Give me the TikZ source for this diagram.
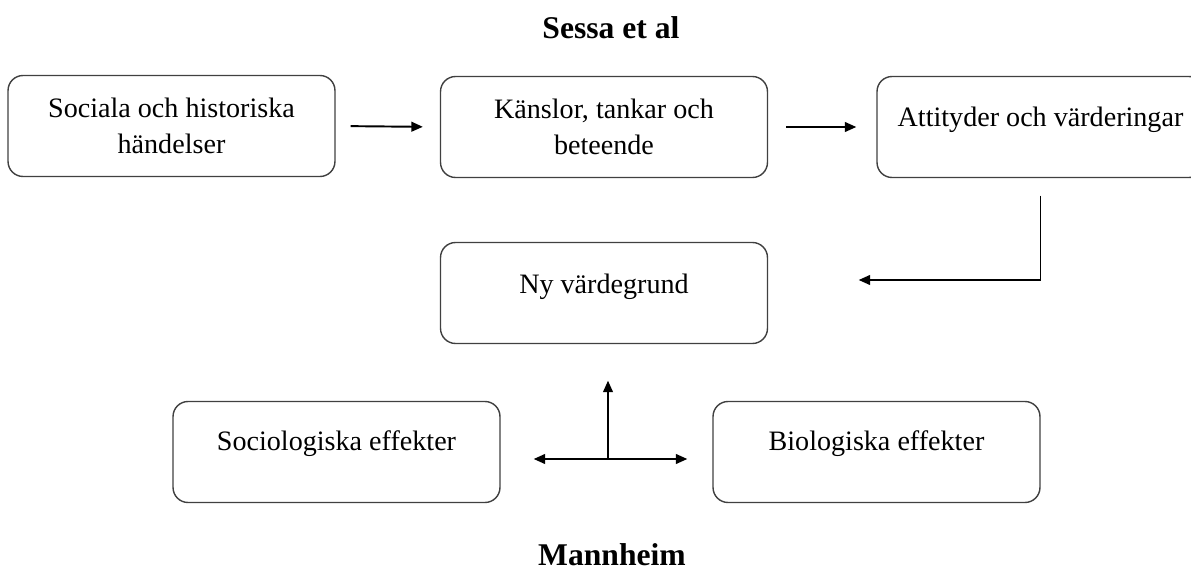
\documentclass[tikz,border=0pt]{standalone}
\usepackage{fontspec}
\setmainfont{Liberation Serif}
\usetikzlibrary{arrows.meta}

\begin{document}
\begin{tikzpicture}[x=0.02cm,y=-0.02cm,
    box/.style={draw=black!75, line width=0.8pt, rounded corners=0.3cm, minimum width=6.54cm, minimum height=2.02cm, align=center, font=\fontsize{16pt}{20.5pt}\selectfont},
    raised/.style={text depth=#1},
    tip/.style={line width=1.1pt},
    arr/.style={tip, -{Triangle[length=6.5pt,width=5.5pt]}},
    dbl/.style={tip, {Triangle[length=6.5pt,width=5.5pt]}-{Triangle[length=6.5pt,width=5.5pt]}},
    title/.style={inner sep=1pt, font=\fontsize{18pt}{22pt}\selectfont\bfseries}]

    % page size of the original
    \useasboundingbox (0,0) rectangle (1191,571);

    % headings
    \node[title] (sessa) at (611,28) {Sessa et al};
    \node[title] (mannheim) at (612,555) {Mannheim};

    % top row
    \node[box] (handelser) at (171.5,126) {Sociala och historiska\\händelser};
    \node[box] (kanslor) at (604,127) {Känslor, tankar och\\beteende};
    \node[box, raised=0.40cm] (attityder) at (1040.5,127) {Attityder och värderingar};

    % middle
    \node[box, raised=0.38cm] (grund) at (604,293) {Ny värdegrund};

    % bottom row
    \node[box, raised=0.46cm] (sociologi) at (336.5,452) {Sociologiska effekter};
    \node[box, raised=0.46cm] (biologi) at (876.5,452) {Biologiska effekter};
    \coordinate (hub) at (608,459);

    % arrows
    \draw[arr, shorten <=0.3cm, shorten >=0.34cm] (handelser.east) -- (kanslor.west);
    \draw[arr, shorten <=0.36cm, shorten >=0.4cm] (kanslor.east) -- (attityder.west);
    \draw[arr] ([yshift=-0.35cm]attityder.south) |- ([xshift=1.81cm,yshift=0.26cm]grund.east);
    \draw[dbl, shorten <=0.66cm, shorten >=0.5cm] (hub -| sociologi.east) -- (hub -| biologi.west);
    \draw[arr, shorten >=0.73cm] (hub) -- (hub |- grund.south);

\end{tikzpicture}
\end{document}
